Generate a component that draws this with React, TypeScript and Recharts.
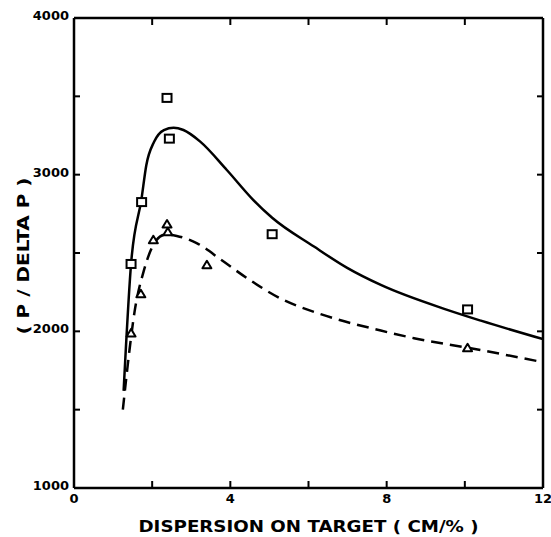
import React from 'react';
import { ComposedChart, XAxis, YAxis, Line, Scatter } from 'recharts';

const xTicks = [0, 2, 4, 6, 8, 10, 12];
const xLabels = [0, 4, 8, 12];
const yTicks = [1000, 1500, 2000, 2500, 3000, 3500, 4000];
const yLabels = [1000, 2000, 3000, 4000];

const squareX = [1.46, 1.73, 2.38, 2.44, 5.07, 10.07];
const squareY = [2430, 2825, 3490, 3230, 2620, 2140];

const triangleX = [1.46, 1.71, 2.03, 2.38, 2.4, 3.4, 10.07];
const triangleY = [1990, 2240, 2585, 2685, 2635, 2425, 1895];

const solidX = [1.27, 1.46, 1.73, 1.85, 2.05, 2.3, 2.55, 2.8, 3.23, 3.91, 4.59, 5.07, 6.14, 6.99, 7.85, 9.55, 10.41, 12.0];
const solidY = [1620, 2430, 2850, 3060, 3210, 3285, 3300, 3285, 3211, 3030, 2838, 2725, 2541, 2405, 2296, 2137, 2068, 1950];

const dashedX = [1.25, 1.42, 1.55, 1.78, 1.95, 2.1, 2.35, 2.63, 3.15, 3.8, 4.43, 5.28, 6.31, 7.85, 8.7, 10.15, 11.86];
const dashedY = [1500, 1881, 2126, 2381, 2509, 2580, 2618, 2609, 2562, 2450, 2339, 2210, 2110, 2005, 1956, 1892, 1810];

const xAxisTitle = 'DISPERSION ON TARGET ( CM/% )';
const yAxisTitle = '( P / DELTA P )';

const squares = squareX.map((x, i) => ({ x, y: squareY[i] }));
const triangles = triangleX.map((x, i) => ({ x, y: triangleY[i] }));
const solid = solidX.map((x, i) => ({ x, y: solidY[i] }));
const dashed = dashedX.map((x, i) => ({ x, y: dashedY[i] }));

const FONT = '"DejaVu Sans", sans-serif';
const INK = '#000';

const BottomTick = (props: any) => {
  const { x, y, payload } = props;
  const v = payload.value;
  return (
    <g>
      <line x1={x} y1={y} x2={x} y2={y - 7} stroke={INK} strokeWidth={2} />
      {xLabels.includes(v) && (
        <text x={x} y={y + 15} textAnchor="middle" fontFamily={FONT} fontWeight="bold" fontSize={13} fill={INK}>
          {v}
        </text>
      )}
    </g>
  );
};

const TopTick = (props: any) => {
  const { x, y } = props;
  return <line x1={x} y1={y} x2={x} y2={y + 7} stroke={INK} strokeWidth={2} />;
};

const LeftTick = (props: any) => {
  const { x, y, payload } = props;
  const v = payload.value;
  return (
    <g>
      <line x1={x} y1={y} x2={x + 6} y2={y} stroke={INK} strokeWidth={2} />
      {yLabels.includes(v) && (
        <text x={x - 5} y={y + 2} textAnchor="end" fontFamily={FONT} fontWeight="bold" fontSize={13} fill={INK}>
          {v}
        </text>
      )}
    </g>
  );
};

const RightTick = (props: any) => {
  const { x, y } = props;
  return <line x1={x} y1={y} x2={x - 6} y2={y} stroke={INK} strokeWidth={2} />;
};

const XTitle = (props: any) => {
  const vb = props.viewBox || {};
  const cx = vb.x + vb.width / 2;
  return (
    <text x={cx} y={vb.y + 44} textAnchor="middle" fontFamily={FONT} fontWeight="bold" fontSize={16}
      textLength={340} lengthAdjust="spacingAndGlyphs" fill={INK}>
      {xAxisTitle}
    </text>
  );
};

const YTitle = (props: any) => {
  const vb = props.viewBox || {};
  const cy = vb.y + vb.height / 2 + 3;
  const bx = 29;
  return (
    <text x={bx} y={cy} transform={`rotate(-90 ${bx} ${cy})`} textAnchor="middle" fontFamily={FONT}
      fontWeight="bold" fontSize={16} textLength={157} lengthAdjust="spacingAndGlyphs" fill={INK}>
      {yAxisTitle}
    </text>
  );
};

const SquareShape = (props: any) => {
  const { cx, cy } = props;
  return <rect x={cx - 4.5} y={cy - 4} width={9} height={8} fill="#fff" stroke={INK} strokeWidth={2} />;
};

const TriangleShape = (props: any) => {
  const { cx, cy } = props;
  return (
    <polygon points={`${cx - 4.5},${cy + 3.5} ${cx + 4.5},${cy + 3.5} ${cx},${cy - 4}`}
      fill="#fff" stroke={INK} strokeWidth={2} strokeLinejoin="round" />
  );
};

export default function App() {
  const axisLine = { stroke: INK, strokeWidth: 2.5 };
  return (
    <div style={{ position: 'absolute', left: 0, top: 0, background: '#fff' }}>
      <ComposedChart width={551} height={537} margin={{ top: 17, right: 7, bottom: 48, left: 73 }}>
        <XAxis xAxisId="bottom" dataKey="x" type="number" domain={[0, 12]} ticks={xTicks} allowDataOverflow
          height={1} tickSize={0} tickMargin={0} tickLine={false} axisLine={axisLine} tick={<BottomTick />}
          interval={0} label={<XTitle />} />
        <XAxis xAxisId="top" orientation="top" dataKey="x" type="number" domain={[0, 12]} ticks={xTicks}
          allowDataOverflow height={1} tickSize={0} tickMargin={0} tickLine={false} axisLine={axisLine}
          tick={<TopTick />} interval={0} />
        <YAxis yAxisId="left" dataKey="y" type="number" domain={[1000, 4000]} ticks={yTicks} allowDataOverflow
          width={1} tickSize={0} tickMargin={0} tickLine={false} axisLine={axisLine} tick={<LeftTick />}
          interval={0} label={<YTitle />} />
        <YAxis yAxisId="right" orientation="right" dataKey="y" type="number" domain={[1000, 4000]} ticks={yTicks}
          allowDataOverflow width={1} tickSize={0} tickMargin={0} tickLine={false} axisLine={axisLine}
          tick={<RightTick />} interval={0} />
        <Line xAxisId="bottom" yAxisId="left" data={solid} dataKey="y" type="monotone" stroke={INK}
          strokeWidth={2.5} dot={false} activeDot={false} isAnimationActive={false} />
        <Line xAxisId="bottom" yAxisId="left" data={dashed} dataKey="y" type="monotone" stroke={INK}
          strokeWidth={2.5} strokeDasharray="12 7" dot={false} activeDot={false} isAnimationActive={false} />
        <Scatter xAxisId="bottom" yAxisId="left" data={squares} dataKey="y" shape={<SquareShape />}
          isAnimationActive={false} />
        <Scatter xAxisId="bottom" yAxisId="left" data={triangles} dataKey="y" shape={<TriangleShape />}
          isAnimationActive={false} />
      </ComposedChart>
    </div>
  );
}
